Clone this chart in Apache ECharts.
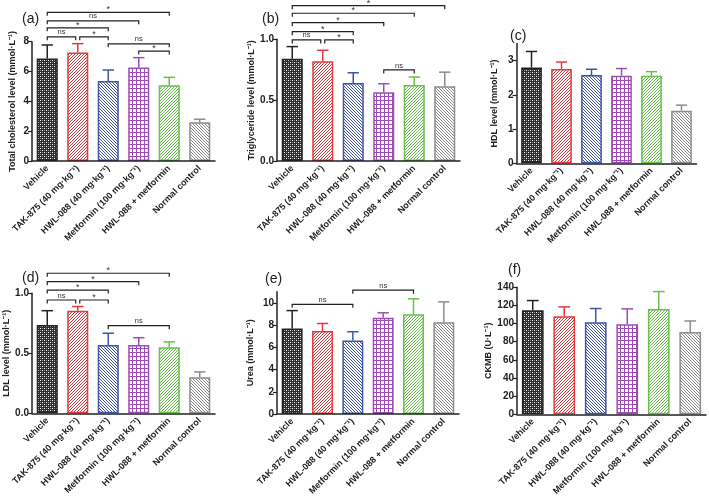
<!DOCTYPE html>
<html><head><meta charset="utf-8">
<script src="https://cdn.jsdelivr.net/npm/echarts@6/dist/echarts.min.js"></script>
<style>html,body{margin:0;padding:0;background:#fff}#c{width:709px;height:500px}</style>
</head><body><div id="c"></div><script>
// ---------- data ----------
const categories = ['Vehicle', 'TAK-875 (40 mg·kg⁻¹)', 'HWL-088 (40 mg·kg⁻¹)', 'Metformin (100 mg·kg⁻¹)', 'HWL-088 + metformin', 'Normal control'];

const cholMean = [6.88, 7.27, 5.36, 6.27, 5.08, 2.60];
const cholErr  = [0.90, 0.60, 0.74, 0.66, 0.53, 0.20];
const trigMean = [0.84, 0.82, 0.64, 0.565, 0.625, 0.615];
const trigErr  = [0.10, 0.09, 0.085, 0.07, 0.065, 0.115];
const hdlMean  = [2.80, 2.76, 2.58, 2.56, 2.56, 1.54];
const hdlErr   = [0.47, 0.20, 0.17, 0.21, 0.12, 0.16];
const ldlMean  = [0.735, 0.855, 0.57, 0.57, 0.55, 0.30];
const ldlErr   = [0.12, 0.035, 0.097, 0.06, 0.045, 0.045];
const ureaMean = [7.70, 7.46, 6.60, 8.65, 8.98, 8.26];
const ureaErr  = [1.60, 0.68, 0.80, 0.45, 1.38, 1.83];
const ckmbMean = [114.7, 108.1, 101.5, 99.3, 116.2, 90.8];
const ckmbErr  = [10.7, 10.3, 15.1, 16.9, 19.1, 12.1];

// significance brackets: [fromIndex, toIndex, yValue, label]
const cholBrackets = [[0,4,9.97,'*'],[0,3,9.4,'ns'],[0,2,8.93,'*'],[0,1,8.33,'ns'],[1,2,8.33,'*'],[2,4,7.86,'ns'],[3,4,7.37,'*']];
const trigBrackets = [[0,5,1.276,'*'],[0,4,1.214,'*'],[0,3,1.137,'*'],[0,2,1.063,'*'],[0,1,0.995,'ns'],[1,2,0.995,'*'],[3,4,0.748,'ns']];
const hdlBrackets  = [];
const ldlBrackets  = [[0,4,1.167,'*'],[0,3,1.097,'*'],[0,2,1.027,'*'],[0,1,0.944,'ns'],[1,2,0.944,'*'],[2,4,0.73,'ns']];
const ureaBrackets = [[0,2,9.86,'ns'],[2,4,11.14,'ns']];
const ckmbBrackets = [];

const panelLabels = ['(a)', '(b)', '(c)', '(d)', '(e)', '(f)'];
const yNames = ['Total cholesterol level (mmol·L⁻¹)', 'Triglyceride level (mmol·L⁻¹)', 'HDL level (mmol·L⁻¹)',
                'LDL level (mmol·L⁻¹)', 'Urea (mmol·L⁻¹)', 'CKMB (U·L⁻¹)'];
const yMax      = [8, 1.0, 3.5, 1.0, 11, 140];
const yTicks    = [[0, 2, 4, 6, 8], [0, 0.5, 1.0], [0, 1, 2, 3], [0, 0.5, 1.0], [0, 2, 4, 6, 8, 10], [0, 20, 40, 60, 80, 100, 120, 140]];
const yDecimals = [0, 1, 0, 1, 0, 0];

const means = [cholMean, trigMean, hdlMean, ldlMean, ureaMean, ckmbMean];
const errs  = [cholErr, trigErr, hdlErr, ldlErr, ureaErr, ckmbErr];
const brackets = [cholBrackets, trigBrackets, hdlBrackets, ldlBrackets, ureaBrackets, ckmbBrackets];

// ---------- layout / style ----------
const gridLeft   = [32, 277, 516.5, 32, 277, 517];
const gridTop    = [41.7, 39.3, 43.6, 293.3, 291.7, 287.3];
const gridBottom = [161, 161, 163.3, 413.3, 414, 414.3];
const gridWidth  = [183, 183, 180, 183, 182, 189];
const nameGaps   = [15, 20, 17, 17, 22, 22];
const labelPos   = [[17, 7], [257, 7], [505, 24], [17, 266], [260, 267], [503, 258]];

const FONT = '"Liberation Sans", Arial, sans-serif';
const barColors = ['#222222', '#e23a3f', '#3f55a8', '#9b4db5', '#66c04a', '#8c8c8c'];
const patternKinds = ['dots', 'fwd', 'back', 'grid', 'fwd', 'back'];

function makePattern(kind, color) {
  const c = document.createElement('canvas');
  const g = c.getContext('2d');
  if (kind === 'dots') {
    const s = 4; c.width = s; c.height = s;
    g.fillStyle = '#2e2e2e'; g.fillRect(0, 0, s, s);
    g.fillStyle = '#ffffff'; g.fillRect(0, 0, 1, 1); g.fillRect(2, 2, 1, 1);
    g.fillStyle = '#8a8a8a'; g.fillRect(2, 0, 1, 1); g.fillRect(0, 2, 1, 1);
    return { image: c, repeat: 'repeat' };
  }
  if (kind === 'grid') {
    const s = 4; c.width = s; c.height = s;
    g.fillStyle = '#ffffff'; g.fillRect(0, 0, s, s);
    g.fillStyle = color; g.fillRect(0, 0, s, 1); g.fillRect(0, 0, 1, s);
    return { image: c, repeat: 'repeat' };
  }
  const s = 3; c.width = s; c.height = s;
  g.fillStyle = '#ffffff'; g.fillRect(0, 0, s, s);
  g.fillStyle = color;
  for (let i = 0; i < s; i++) {
    const x = kind === 'fwd' ? (s - 1 - i) : i;
    g.fillRect(x, i, 1, 1);
  }
  return { image: c, repeat: 'repeat' };
}
const patterns = barColors.map((c, i) => makePattern(patternKinds[i], c));

const grids = [], xAxes = [], yAxes = [], series = [], titles = [];
for (let p = 0; p < 6; p++) {
  grids.push({ left: gridLeft[p], top: gridTop[p], width: gridWidth[p], height: gridBottom[p] - gridTop[p], containLabel: false });
  titles.push({ text: panelLabels[p], left: labelPos[p][0], top: labelPos[p][1],
    textStyle: { fontFamily: FONT, fontSize: 14, fontWeight: 'normal', color: '#222' } });
  xAxes.push({
    type: 'category', gridIndex: p, data: categories, boundaryGap: true, z: 10,
    axisLine: { lineStyle: { color: '#222', width: 1.5 } },
    axisTick: { alignWithLabel: true, length: 4, lineStyle: { color: '#222', width: 1.2 } },
    axisLabel: { interval: 0, rotate: 45, margin: 6, fontFamily: FONT, fontSize: 9, fontWeight: 'bold', color: '#222' }
  });
  const dec = yDecimals[p];
  yAxes.push({
    type: 'value', gridIndex: p, min: 0, max: yMax[p], z: 10,
    name: yNames[p], nameLocation: 'middle', nameGap: nameGaps[p], nameRotate: 90,
    nameTextStyle: { fontFamily: FONT, fontSize: 9, fontWeight: 'bold', color: '#222' },
    splitLine: { show: false },
    axisLine: { show: true, lineStyle: { color: '#222', width: 1.5 } },
    axisTick: { show: true, length: 4, customValues: yTicks[p], lineStyle: { color: '#222', width: 1.2 } },
    axisLabel: { margin: 3, customValues: yTicks[p], fontFamily: FONT, fontSize: 10, fontWeight: 'bold', color: '#222',
      formatter: v => Number(v).toFixed(dec) }
  });
  series.push({
    type: 'bar', xAxisIndex: p, yAxisIndex: p, barWidth: '69%',
    data: means[p].map((v, i) => ({ value: v, itemStyle: { color: patterns[i], borderColor: barColors[i], borderWidth: 1.5 } })),
    z: 2
  });
  const errData = means[p].map((v, i) => [i, v, v + errs[p][i]]);
  series.push({
    type: 'custom', xAxisIndex: p, yAxisIndex: p, z: 3, clip: false,
    encode: { x: 0, y: [1, 2] },
    data: errData,
    renderItem: function (params, api) {
      const i = api.value(0);
      const lo = api.coord([i, api.value(1)]);
      const hi = api.coord([i, api.value(2)]);
      const band = api.size([1, 0])[0];
      const half = band * 0.69 * 0.27;
      const col = barColors[i];
      return { type: 'group', children: [
        { type: 'line', shape: { x1: lo[0], y1: lo[1], x2: hi[0], y2: hi[1] }, style: { stroke: col, lineWidth: 1.5 } },
        { type: 'line', shape: { x1: hi[0] - half, y1: hi[1], x2: hi[0] + half, y2: hi[1] }, style: { stroke: col, lineWidth: 1.5 } }
      ] };
    }
  });
  const br = brackets[p];
  if (br.length) {
    const bdata = br.map((b, k) => {
      let inL = 0, inR = 0;
      br.forEach((o, m) => {
        if (m === k || o[2] !== b[2]) return;
        if (o[1] === b[0]) inL = 1;
        if (o[0] === b[1]) inR = 1;
      });
      return [b[0], b[1], b[2], inL, inR];
    });
    series.push({
      type: 'custom', xAxisIndex: p, yAxisIndex: p, z: 4, clip: false,
      encode: { x: [0, 1], y: 2 },
      data: bdata,
      renderItem: function (params, api) {
        const a = api.coord([api.value(0), api.value(2)]);
        const b = api.coord([api.value(1), api.value(2)]);
        const x1 = a[0] + (api.value(3) ? 2 : 0);
        const x2 = b[0] - (api.value(4) ? 2 : 0);
        const y = a[1];
        const label = br[params.dataIndex][3];
        return { type: 'group', children: [
          { type: 'polyline', shape: { points: [[x1, y + 3.5], [x1, y], [x2, y], [x2, y + 3.5]] },
            style: { stroke: '#222', lineWidth: 1.2, fill: null } },
          { type: 'text', x: (x1 + x2) / 2, y: label === '*' ? y + 2 : y - 0.5,
            style: { text: label, fontFamily: FONT, fontSize: label === '*' ? 9 : 7.5, fill: '#333',
              textAlign: 'center', textVerticalAlign: 'bottom' } }
        ] };
      }
    });
  }
}

const chart = echarts.init(document.getElementById('c'), null, { renderer: 'canvas' });
chart.setOption({
  animation: false,
  backgroundColor: '#ffffff',
  title: titles,
  grid: grids, xAxis: xAxes, yAxis: yAxes, series: series
});
</script></body></html>
